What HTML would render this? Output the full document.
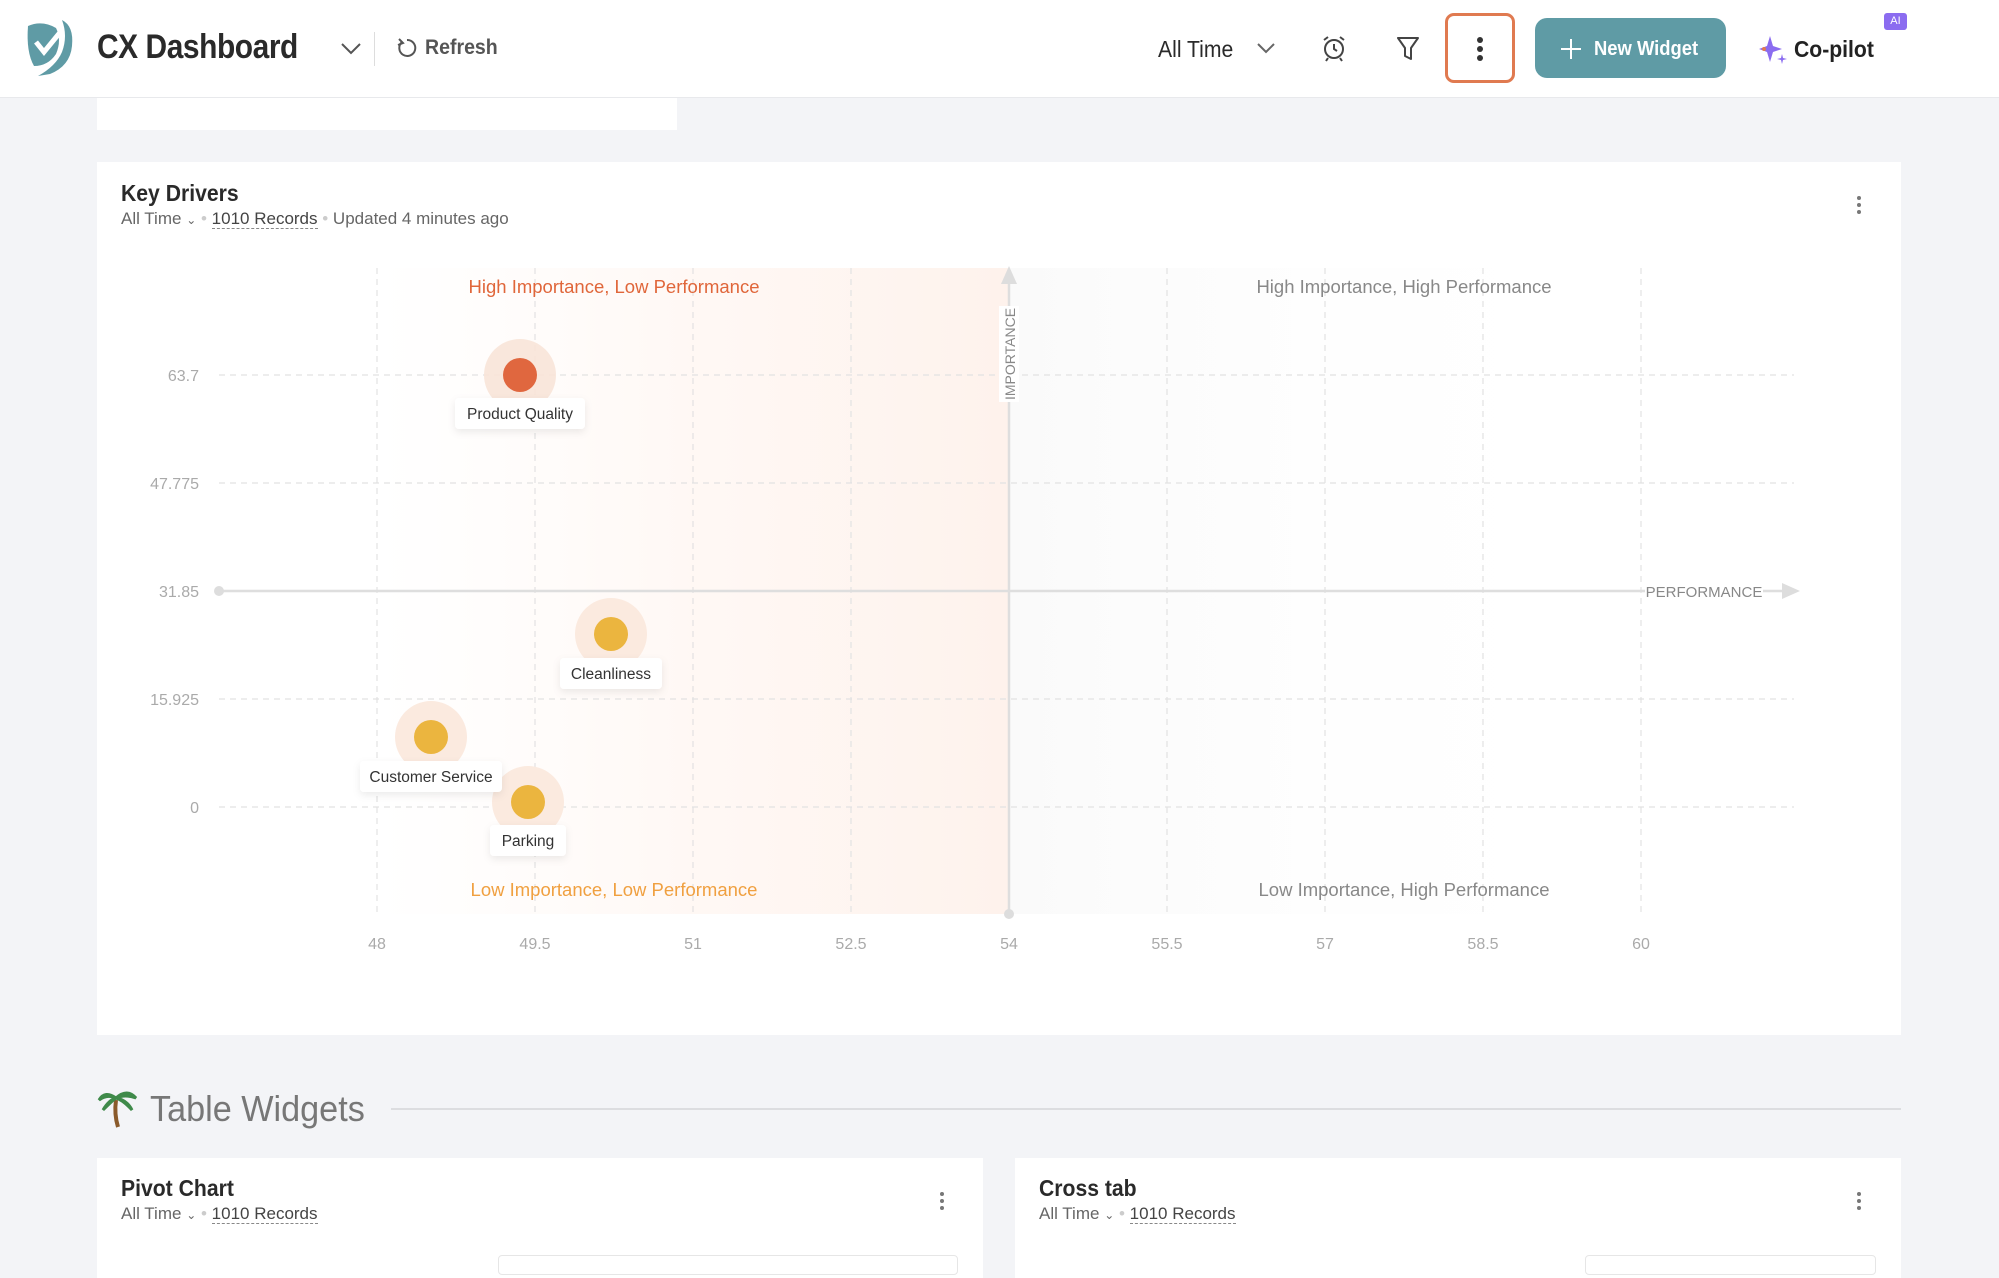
<!DOCTYPE html>
<html><head><meta charset="utf-8"><style>
*{box-sizing:border-box;margin:0;padding:0}
body{width:1999px;height:1268px;overflow:hidden;background:#f3f4f7;font-family:"Liberation Sans",sans-serif;position:relative;color:#222}
.abs{position:absolute}
.hdr{left:0;top:0;width:1999px;height:98px;background:#fff;border-bottom:1px solid #e8e9ec}
.card{background:#fff}
.t{white-space:nowrap}
</style></head><body>
<div class="abs hdr"></div>
<svg class="abs" style="left:22px;top:16px" width="60" height="62" viewBox="0 0 60 62">
<path d="M6 10 Q20 4 34 12 Q40 24 34 38 Q26 50 12 50 Q4 36 6 10Z" fill="#5f9ba5"/>
<path d="M40 4 Q52 10 50 30 Q48 50 28 58 L16 60 Q34 50 40 36 Q46 20 40 4Z" fill="#5f9ba5"/>
<path d="M14 26 L22 36 L40 14" stroke="#fff" stroke-width="5" fill="none"/>
</svg>
<div class="abs t" style="left:97px;top:28px;font-size:34px;font-weight:bold;color:#2a2a2a;letter-spacing:-0.5px;transform:scaleX(0.88);transform-origin:left">CX Dashboard</div>
<svg class="abs" style="left:340px;top:42px" width="22" height="14"><path d="M2 2 L11 11 L20 2" stroke="#555" stroke-width="2" fill="none"/></svg>
<div class="abs" style="left:374px;top:32px;width:1px;height:34px;background:#ddd"></div>
<svg class="abs" style="left:396px;top:37px" width="22" height="22"><path d="M6 5 A8 8 0 1 0 11 3" stroke="#555" stroke-width="2" fill="none"/><path d="M3 2 L7 6 L2 8" stroke="#555" stroke-width="2" fill="none"/></svg>
<div class="abs t" style="left:425px;top:36px;font-size:21px;font-weight:bold;color:#555;transform:scaleX(0.93);transform-origin:left">Refresh</div>
<div class="abs t" style="left:1158px;top:36px;font-size:23px;color:#2a2a2a;transform:scaleX(0.92);transform-origin:left">All Time</div>
<svg class="abs" style="left:1256px;top:42px" width="20" height="12"><path d="M2 2 L10 10 L18 2" stroke="#666" stroke-width="2" fill="none"/></svg>
<svg class="abs" style="left:1320px;top:34px" width="28" height="28"><circle cx="14" cy="15" r="9" stroke="#444" stroke-width="2" fill="none"/><path d="M14 10 V15 L17 17 M4 6 L8 3 M24 6 L20 3 M8 24 L6 27 M20 24 L22 27" stroke="#444" stroke-width="2" fill="none"/></svg>
<svg class="abs" style="left:1396px;top:36px" width="24" height="26"><path d="M2 2 H22 L15 12 V23 L9 20 V12 Z" stroke="#444" stroke-width="2" fill="none" stroke-linejoin="round"/></svg>
<div class="abs" style="left:1445px;top:13px;width:70px;height:70px;border:3px solid #e07a50;border-radius:9px"></div>
<div class="abs" style="left:1477px;top:37px;width:6px;height:6px;border-radius:3px;background:#333"></div>
<div class="abs" style="left:1477px;top:46px;width:6px;height:6px;border-radius:3px;background:#333"></div>
<div class="abs" style="left:1477px;top:55px;width:6px;height:6px;border-radius:3px;background:#333"></div>
<div class="abs" style="left:1535px;top:18px;width:191px;height:60px;border-radius:12px;background:#5f9ba5"></div>
<svg class="abs" style="left:1560px;top:38px" width="22" height="22"><path d="M11 1 V21 M1 11 H21" stroke="#fff" stroke-width="2"/></svg>
<div class="abs t" style="left:1594px;top:38px;font-size:20px;color:#fff;font-weight:bold;transform:scaleX(0.92);transform-origin:left">New Widget</div>
<svg class="abs" style="left:1758px;top:34px" width="30" height="30"><path d="M12 2 L15 12 L24 15 L15 18 L12 28 L9 18 L1 15 L9 12Z" fill="#8b6cf0"/><path d="M24 20 L25 24 L29 25 L25 26 L24 30 L23 26 L19 25 L23 24Z" fill="#8b6cf0"/><circle cx="6" cy="15" r="2" fill="#e07a50"/></svg>
<div class="abs t" style="left:1794px;top:36px;font-size:23px;font-weight:bold;color:#222;transform:scaleX(0.92);transform-origin:left">Co-pilot</div>
<div class="abs" style="left:1884px;top:13px;width:23px;height:17px;background:#8b6cf0;border-radius:3px;color:#fff;font-size:11px;text-align:center;line-height:17px">AI</div>

<div class="abs card" style="left:97px;top:98px;width:580px;height:32px"></div>
<div class="abs card" style="left:97px;top:162px;width:1804px;height:873px"></div>
<div class="abs t" style="left:121px;top:180px;font-size:23px;font-weight:bold;color:#2a2a2a;transform:scaleX(0.92);transform-origin:left">Key Drivers</div>
<div class="abs t" style="left:121px;top:209px;font-size:17px;color:#666">All Time <span style="font-size:12px">&#8964;</span> <span style="color:#ccc">•</span> <span style="border-bottom:1.5px dashed #888;color:#444">1010 Records</span> <span style="color:#ccc">•</span> Updated 4 minutes ago</div>
<div class="abs" style="left:1857px;top:196px;width:4px;height:4px;border-radius:2px;background:#777;box-shadow:0 7px 0 #777,0 14px 0 #777"></div>

<svg class="abs" style="left:0;top:0" width="1999" height="1268">
<defs>
<linearGradient id="lg" x1="0" x2="1" y1="0" y2="0">
<stop offset="0" stop-color="#fff8f4" stop-opacity="0"/><stop offset="0.5" stop-color="#fff5f0" stop-opacity="0.7"/><stop offset="1" stop-color="#fef2ec"/></linearGradient>
<linearGradient id="rg" x1="0" x2="1" y1="0" y2="0">
<stop offset="0" stop-color="#fafafa"/><stop offset="1" stop-color="#ffffff" stop-opacity="0"/></linearGradient>
<filter id="sh" x="-30%" y="-50%" width="160%" height="200%"><feDropShadow dx="0" dy="3" stdDeviation="4" flood-color="#000" flood-opacity="0.08"/></filter>
</defs>
<rect x="377" y="268" width="632" height="646" fill="url(#lg)"/>
<rect x="1009" y="268" width="632" height="646" fill="url(#rg)"/>
<g stroke="#e2e2e2" stroke-width="1.2" stroke-dasharray="6 5" fill="none">
<path d="M219 375 H1794 M219 483 H1794 M219 699 H1794 M219 807 H1794"/>
<path d="M377 268 V914 M535 268 V914 M693 268 V914 M851 268 V914 M1167 268 V914 M1325 268 V914 M1483 268 V914 M1641 268 V914"/>
</g>
<g fill="#aaa" font-size="16" text-anchor="end">
<text x="199" y="381">63.7</text><text x="199" y="489">47.775</text><text x="199" y="597">31.85</text><text x="199" y="705">15.925</text><text x="199" y="813">0</text>
</g>
<g fill="#aaa" font-size="16" text-anchor="middle">
<text x="377" y="949">48</text><text x="535" y="949">49.5</text><text x="693" y="949">51</text><text x="851" y="949">52.5</text><text x="1009" y="949">54</text><text x="1167" y="949">55.5</text><text x="1325" y="949">57</text><text x="1483" y="949">58.5</text><text x="1641" y="949">60</text>
</g>
<path d="M219 591 H1645 M1763 591 H1785" stroke="#dedede" stroke-width="2.5"/>
<circle cx="219" cy="591" r="5" fill="#ddd"/>
<path d="M1782 583 L1800 591 L1782 599Z" fill="#ddd"/>
<text x="1704" y="597" fill="#888" font-size="15" text-anchor="middle">PERFORMANCE</text>
<path d="M1009 275 V914" stroke="#dedede" stroke-width="2.5"/>
<path d="M1001 284 L1009 266 L1017 284Z" fill="#ddd"/>
<circle cx="1009" cy="914" r="5" fill="#ddd"/>
<rect x="999" y="306" width="20" height="96" fill="#fff"/>
<text transform="translate(1015,354) rotate(-90)" fill="#888" font-size="14" text-anchor="middle">IMPORTANCE</text>
<g font-size="18.5" text-anchor="middle">
<text x="614" y="293" fill="#e0663a">High Importance, Low Performance</text>
<text x="1404" y="293" fill="#888">High Importance, High Performance</text>
<text x="614" y="896" fill="#f0a040">Low Importance, Low Performance</text>
<text x="1404" y="896" fill="#888">Low Importance, High Performance</text>
</g>
<g>
<circle cx="520" cy="375" r="36" fill="#f8e4d8" opacity="0.9"/><circle cx="520" cy="375" r="17" fill="#e0673f"/>
<circle cx="611" cy="634" r="36" fill="#fbeadf"/><circle cx="611" cy="634" r="17" fill="#ebb53f"/>
<circle cx="431" cy="737" r="36" fill="#fbeadf"/><circle cx="431" cy="737" r="17" fill="#ebb53f"/>
<circle cx="528" cy="802" r="36" fill="#fbeadf"/><circle cx="528" cy="802" r="17" fill="#ebb53f"/>
</g>
<g filter="url(#sh)" fill="#fff">
<rect x="455" y="398" width="130" height="31" rx="4"/>
<rect x="560" y="658" width="102" height="31" rx="4"/>
<rect x="360" y="761" width="142" height="31" rx="4"/>
<rect x="490" y="825" width="76" height="31" rx="4"/>
</g>
<g font-size="15.5" fill="#333" text-anchor="middle">
<text x="520" y="419">Product Quality</text>
<text x="611" y="679">Cleanliness</text>
<text x="431" y="782">Customer Service</text>
<text x="528" y="846">Parking</text>
</g>
<g transform="translate(99,1086)">
<path d="M17 14 Q15 28 19 41" stroke="#8a5a2b" stroke-width="4" fill="none"/>
<path d="M17 12 Q6 4 0 14 Q8 8 17 12 Q10 14 4 24 Q14 14 17 12 Q28 2 37 12 Q26 8 17 12 Q28 14 33 24 Q24 14 17 12Z" fill="#3f8a4a" stroke="#3f8a4a" stroke-width="3"/>
</g>
<path d="M391 1109 H1901" stroke="#dcdde0" stroke-width="2"/>
</svg>
<div class="abs t" style="left:150px;top:1088px;font-size:36px;color:#777;transform:scaleX(0.95);transform-origin:left">Table Widgets</div>

<div class="abs card" style="left:97px;top:1158px;width:886px;height:120px"></div>
<div class="abs t" style="left:121px;top:1175px;font-size:23px;font-weight:bold;color:#2a2a2a;transform:scaleX(0.92);transform-origin:left">Pivot Chart</div>
<div class="abs t" style="left:121px;top:1204px;font-size:17px;color:#666">All Time <span style="font-size:12px">&#8964;</span> <span style="color:#ccc">•</span> <span style="border-bottom:1.5px dashed #888;color:#444">1010 Records</span></div>
<div class="abs" style="left:940px;top:1192px;width:4px;height:4px;border-radius:2px;background:#777;box-shadow:0 7px 0 #777,0 14px 0 #777"></div>
<div class="abs" style="left:498px;top:1255px;width:460px;height:20px;border:1px solid #e6e6e6;border-radius:4px"></div>

<div class="abs card" style="left:1015px;top:1158px;width:886px;height:120px"></div>
<div class="abs t" style="left:1039px;top:1175px;font-size:23px;font-weight:bold;color:#2a2a2a;transform:scaleX(0.92);transform-origin:left">Cross tab</div>
<div class="abs t" style="left:1039px;top:1204px;font-size:17px;color:#666">All Time <span style="font-size:12px">&#8964;</span> <span style="color:#ccc">•</span> <span style="border-bottom:1.5px dashed #888;color:#444">1010 Records</span></div>
<div class="abs" style="left:1857px;top:1192px;width:4px;height:4px;border-radius:2px;background:#777;box-shadow:0 7px 0 #777,0 14px 0 #777"></div>
<div class="abs" style="left:1585px;top:1255px;width:291px;height:20px;border:1px solid #e6e6e6;border-radius:4px"></div>
</body></html>
